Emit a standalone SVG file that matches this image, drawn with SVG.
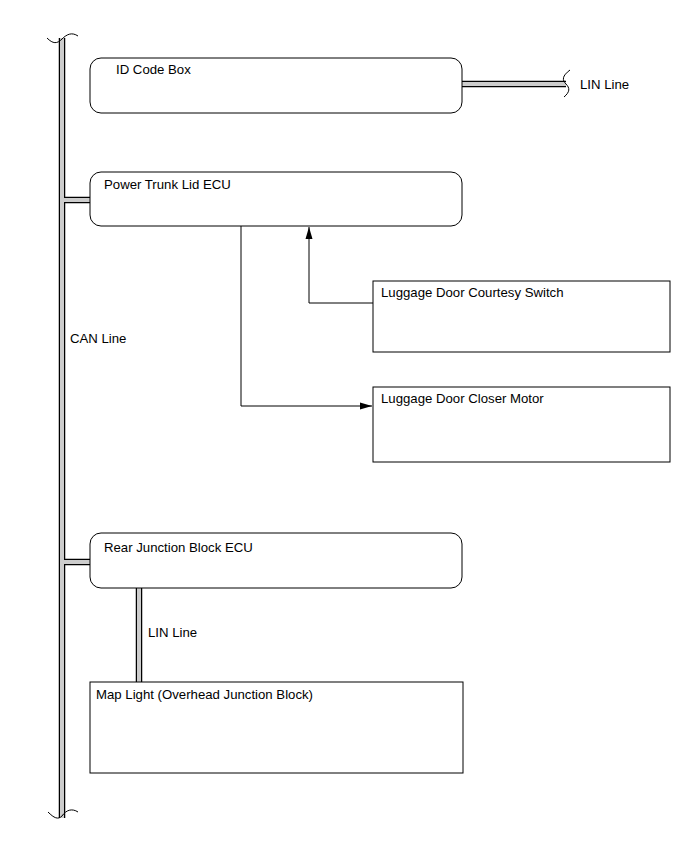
<svg xmlns="http://www.w3.org/2000/svg" width="690" height="854" viewBox="0 0 690 854">
<style>
text{font-family:"Liberation Sans",Arial,sans-serif;font-size:13.2px;fill:#000}
.box{fill:#fff;stroke:#000;stroke-width:1}
.bo{fill:none;stroke:#000;stroke-width:6.5}
.bi{fill:none;stroke:#ccc;stroke-width:4}
.ln{fill:none;stroke:#000;stroke-width:1}
</style>
<defs>
<marker id="ah" viewBox="0 0 12 10" refX="12" refY="5" markerWidth="12" markerHeight="10" markerUnits="userSpaceOnUse" orient="auto">
<path d="M0,1.5 L12,5 L0,8.5 Z" fill="#000"/>
</marker>
</defs>
<g id="bus">
<path class="bo" d="M62,38 V818 M62,200 H90 M62,562 H90 M462,84 H566 M139,588 V682"/>
<path class="bi" d="M62,38 V818 M62,200 H90 M62,562 H90 M462,84 H566 M139,588 V682"/>
<path class="ln" d="M47,38 C53,44 57,44 62,39 C67,34 72,32 78,36"/>
<path class="ln" d="M48,812 C54,818 58,820 62,816 C66,810 72,808 78,812"/>
<path class="ln" d="M570,70 C562,76 562,80 566,84 C570,88 570,92 564,97"/>
<text x="70" y="343">CAN Line</text>
<text x="580" y="89">LIN Line</text>
<text x="148" y="637">LIN Line</text>
</g>
<g id="connectors">
<path class="ln" d="M241,226 V406 H372" marker-end="url(#ah)"/>
<path class="ln" d="M373,303 H309 V227" marker-end="url(#ah)"/>
</g>
<g id="id-code-box">
<rect class="box" x="90" y="58" width="372" height="55" rx="11"/>
<text x="116" y="74">ID Code Box</text>
</g>
<g id="power-trunk-lid-ecu">
<rect class="box" x="90" y="172" width="372" height="54" rx="11"/>
<text x="104" y="189">Power Trunk Lid ECU</text>
</g>
<g id="courtesy-switch">
<rect class="box" x="373" y="281" width="297" height="71"/>
<text x="381" y="297">Luggage Door Courtesy Switch</text>
</g>
<g id="closer-motor">
<rect class="box" x="373" y="387" width="297" height="75"/>
<text x="381" y="403">Luggage Door Closer Motor</text>
</g>
<g id="rear-junction-block-ecu">
<rect class="box" x="90" y="533" width="372" height="55" rx="11"/>
<text x="104" y="552">Rear Junction Block ECU</text>
</g>
<g id="map-light">
<rect class="box" x="90" y="682" width="373" height="91"/>
<text x="96" y="699">Map Light (Overhead Junction Block)</text>
</g>
</svg>
